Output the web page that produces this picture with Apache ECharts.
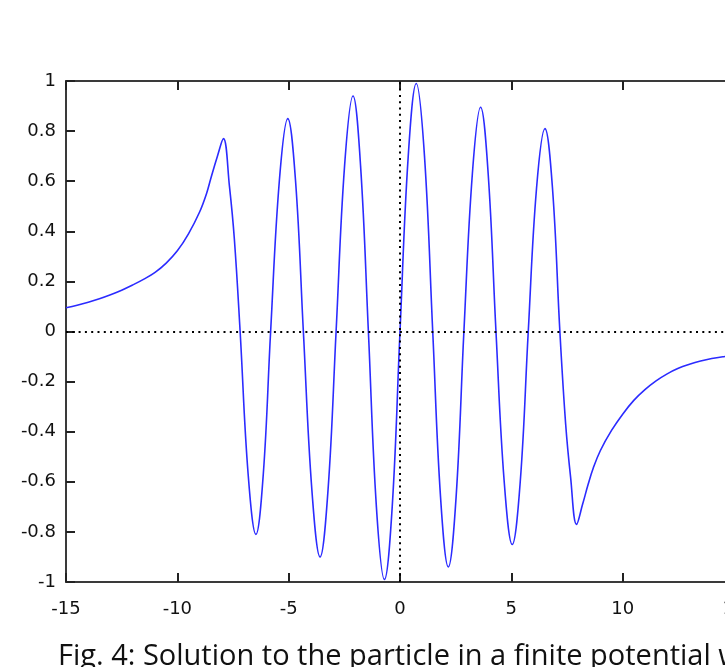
<!DOCTYPE html>
<html>
<head>
<meta charset="utf-8">
<script src="https://cdn.jsdelivr.net/npm/echarts@6/dist/echarts.min.js"></script>
<style>
html,body{margin:0;padding:0;background:#fff;}
#chart{width:725px;height:667px;}
</style>
</head>
<body>
<div id="chart"></div>
<script>
// x positions
var xs = [
  -15, -14.5, -14, -13.5, -13, -12.5, -12, -11.5, -11, -10.5, -10, -9.5, -9, -8.68, -8.5, -8.2, -7.93, -7.66, -7.44,
  -7.18, -6.82, -6.47, -6.14, -5.81, -5.42, -5.04, -4.69, -4.34, -3.96, -3.59, -3.23, -2.87, -2.49, -2.11, -1.77, -1.42,
  -1.06, -0.70, -0.35, 0, 0.37, 0.73, 1.10, 1.47, 1.82, 2.17, 2.52, 2.87, 3.25, 3.62, 3.96, 4.31, 4.68, 5.04, 5.40, 5.76,
  6.13, 6.51, 6.85, 7.18, 7.44, 7.66, 7.93, 8.2, 8.45, 8.68, 9, 9.5, 10, 10.5, 11, 11.5, 12, 12.5, 13, 13.5, 14, 14.5, 15
];
// wavefunction values
var ys = [
  0.095, 0.105, 0.117, 0.131, 0.147, 0.165, 0.186, 0.209, 0.236, 0.273, 0.322, 0.39, 0.477, 0.553, 0.61, 0.70, 0.77, 0.58, 0.37,
  0, -0.57, -0.81, -0.57, 0, 0.60, 0.85, 0.60, 0, -0.63, -0.90, -0.63, 0, 0.66, 0.94, 0.66, 0,
  -0.70, -0.99, -0.70, 0, 0.70, 0.99, 0.70, 0, -0.66, -0.94, -0.66, 0, 0.63, 0.895, 0.63, 0, -0.60, -0.85, -0.60, 0,
  0.57, 0.81, 0.57, 0, -0.37, -0.58, -0.77, -0.69, -0.61, -0.545, -0.475, -0.395, -0.33, -0.275, -0.232, -0.197, -0.169, -0.147, -0.131, -0.118, -0.108, -0.101, -0.096
];
var xTicks = [-15, -10, -5, 0, 5, 10, 15];
var yTicks = [-1, -0.8, -0.6, -0.4, -0.2, 0, 0.2, 0.4, 0.6, 0.8, 1];
var caption = 'Fig. 4: Solution to the particle in a finite potential well';

var data = xs.map(function (x, i) { return [x, ys[i]]; });

var axisLineStyle = { color: '#3a3a3a', width: 2 };
var tickStyle = { color: '#222', width: 2 };
var labelFont = { fontFamily: 'DejaVu Sans', fontSize: 18, color: '#111' };

var chart = echarts.init(document.getElementById('chart'), null, { renderer: 'canvas' });
chart.setOption({
  animation: false,
  backgroundColor: '#fff',
  grid: { left: 66, top: 81, width: 668, height: 501, containLabel: false, outerBoundsMode: 'none' },
  xAxis: [
    {
      type: 'value', position: 'bottom', min: xTicks[0], max: xTicks[xTicks.length - 1], interval: 5,
      axisLine: { show: true, onZero: false, lineStyle: axisLineStyle },
      axisTick: { show: true, inside: true, length: 9, lineStyle: tickStyle },
      axisLabel: Object.assign({ margin: 18, hideOverlap: false }, labelFont),
      splitLine: { show: false }
    },
    {
      type: 'value', position: 'top', min: xTicks[0], max: xTicks[xTicks.length - 1], interval: 5,
      axisLine: { show: true, onZero: false, lineStyle: axisLineStyle },
      axisTick: { show: true, inside: true, length: 9, lineStyle: tickStyle },
      axisLabel: { show: false },
      splitLine: { show: false }
    }
  ],
  yAxis: [
    {
      type: 'value', position: 'left', min: yTicks[0], max: yTicks[yTicks.length - 1], interval: 0.2,
      axisLine: { show: true, onZero: false, lineStyle: axisLineStyle },
      axisTick: { show: true, inside: true, length: 9, lineStyle: tickStyle },
      axisLabel: Object.assign({ margin: 10 }, labelFont),
      splitLine: { show: false }
    },
    {
      type: 'value', position: 'right', min: yTicks[0], max: yTicks[yTicks.length - 1], interval: 0.2,
      axisLine: { show: true, onZero: false, lineStyle: axisLineStyle },
      axisTick: { show: true, inside: true, length: 9, lineStyle: tickStyle },
      axisLabel: { show: false },
      splitLine: { show: false }
    }
  ],
  series: [
    {
      type: 'line', xAxisIndex: 0, yAxisIndex: 0, data: data,
      smooth: 0.4, showSymbol: false, symbol: 'none',
      lineStyle: { color: '#2b2bff', width: 1.6 },
      markLine: {
        silent: true, symbol: ['none', 'none'], label: { show: false },
        lineStyle: { type: [2, 4.3], color: '#000', width: 2 },
        data: [{ xAxis: 0 }, { yAxis: 0 }]
      },
      z: 3
    }
  ],
  graphic: [
    {
      type: 'text', left: 58, top: 642,
      style: { text: caption, font: '29px "Open Sans"', fill: '#111' }
    }
  ]
});
</script>
</body>
</html>
